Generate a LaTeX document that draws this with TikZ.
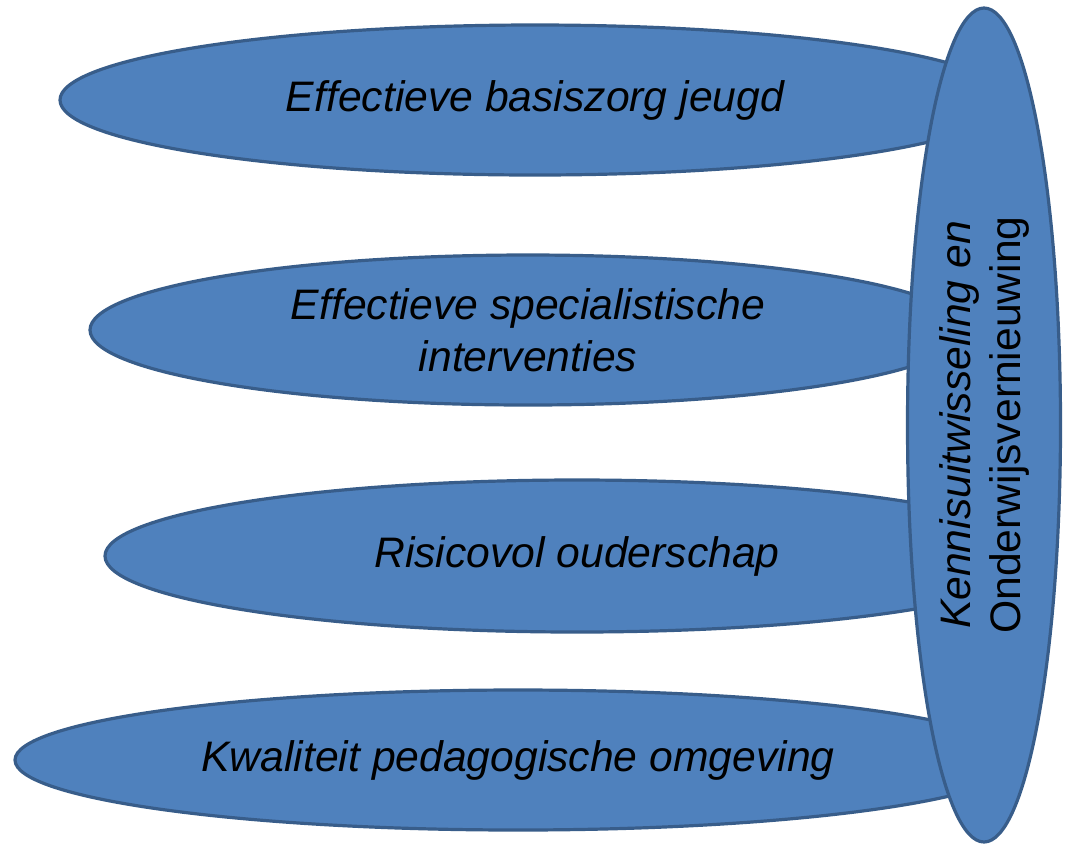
\documentclass[tikz,border=0pt]{standalone}
\usepackage{fontspec}
\setmainfont{Liberation Sans}
\usetikzlibrary{shapes.geometric}
\definecolor{ovalfill}{HTML}{4F81BD}
\definecolor{ovaledge}{HTML}{385D8A}
\tikzset{
	oval/.style={ellipse, draw=ovaledge, fill=ovalfill, line width=2.4pt, inner sep=0pt, align=center,
		font=\fontsize{32}{39}\selectfont\itshape}
}
\begin{document}
\begin{tikzpicture}[x=0.75pt, y=-0.75pt]
\useasboundingbox (0,0) rectangle (1066,844);
\node (basis) [oval, minimum width=712.5pt, minimum height=112.5pt] at (535,100) {Effectieve basiszorg jeugd};
\node (spec) [oval, minimum width=657pt, minimum height=112.5pt] at (528,330) {Effectieve specialistische\\interventies};
\node (risico) [oval, minimum width=708pt, minimum height=114pt] at (577,556) {Risicovol ouderschap};
\node (kwal) [oval, minimum width=754.5pt, minimum height=105pt] at (518,760) {Kwaliteit pedagogische omgeving};
\node (kennis) [oval, rotate=90, minimum width=625.5pt, minimum height=114.75pt, font=\fontsize{32}{37.5}\selectfont\itshape] at (984,425)
	{Kennisuitwisseling en\\\upshape Onderwijsvernieuwing};
\end{tikzpicture}
\end{document}
